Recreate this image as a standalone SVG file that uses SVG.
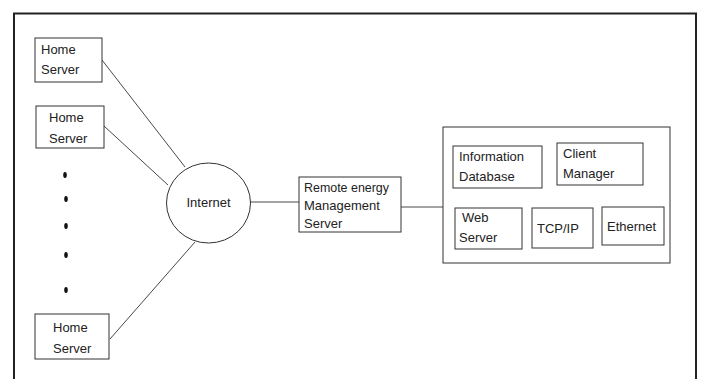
<svg xmlns="http://www.w3.org/2000/svg" width="701" height="379" viewBox="0 0 701 379">
<style>
.box{fill:#fff;stroke:#333;stroke-width:1}
.t{font-family:"Liberation Sans",Arial,sans-serif;font-size:13px;fill:#222}
.c{stroke:#333;stroke-width:0.9;fill:none}
.dot{fill:#111}
</style>
<rect width="701" height="379" fill="#fff"/>
<path d="M14 380 V13.5 H696 V380" fill="none" stroke="#222" stroke-width="2"/>
<g id="connectors">
<line class="c" x1="102" y1="60" x2="185" y2="167"/>
<line class="c" x1="104" y1="126" x2="168" y2="185"/>
<line class="c" x1="110" y1="339" x2="195" y2="242"/>
<line class="c" x1="250" y1="202" x2="299" y2="202"/>
<line class="c" x1="401" y1="207" x2="443" y2="207"/>
</g>
<g id="home1"><rect class="box" x="35" y="38" width="67" height="44"/><text class="t" x="41" y="54">Home</text><text class="t" x="41" y="74">Server</text></g>
<g id="home2"><rect class="box" x="36" y="106" width="68" height="42"/><text class="t" x="49" y="122">Home</text><text class="t" x="49" y="143">Server</text></g>
<g id="dots">
<ellipse class="dot" cx="65" cy="175" rx="1.8" ry="3"/>
<ellipse class="dot" cx="66" cy="199" rx="1.8" ry="3"/>
<ellipse class="dot" cx="66" cy="226" rx="1.8" ry="3"/>
<ellipse class="dot" cx="66" cy="255" rx="1.8" ry="3"/>
<ellipse class="dot" cx="66" cy="290" rx="1.8" ry="3"/>
</g>
<g id="home3"><rect class="box" x="35" y="314" width="74" height="45"/><text class="t" x="53" y="332">Home</text><text class="t" x="53" y="353">Server</text></g>
<g id="internet"><ellipse class="box" cx="208.5" cy="203" rx="42" ry="40"/><text class="t" x="208.5" y="207" text-anchor="middle">Internet</text></g>
<g id="remote"><rect class="box" x="299" y="177" width="102" height="55"/><text class="t" x="304" y="192" textLength="85" lengthAdjust="spacingAndGlyphs">Remote energy</text><text class="t" x="304" y="210">Management</text><text class="t" x="304" y="228">Server</text></g>
<g id="system">
<rect class="box" x="443" y="127" width="227" height="136"/>
<g id="infodb"><rect class="box" x="453" y="146" width="89" height="42"/><text class="t" x="459" y="161">Information</text><text class="t" x="459" y="181">Database</text></g>
<g id="client"><rect class="box" x="557" y="143" width="86" height="42"/><text class="t" x="563" y="158">Client</text><text class="t" x="563" y="178">Manager</text></g>
<g id="web"><rect class="box" x="455" y="208" width="67" height="41"/><text class="t" x="462" y="222">Web</text><text class="t" x="459" y="242">Server</text></g>
<g id="tcp"><rect class="box" x="532" y="208" width="61" height="40"/><text class="t" x="537" y="233">TCP/IP</text></g>
<g id="eth"><rect class="box" x="602" y="207" width="62" height="38"/><text class="t" x="607" y="231">Ethernet</text></g>
</g>
</svg>
